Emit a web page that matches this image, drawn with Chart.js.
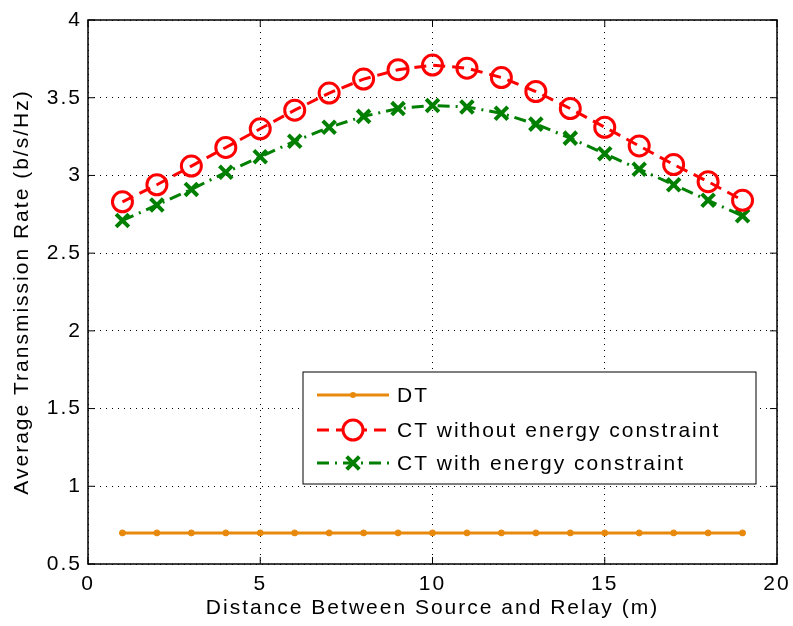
<!DOCTYPE html>
<html lang="en">
<head>
    <meta charset="UTF-8">
    <title>rate vs distance</title>
    <style>
        html, body { margin: 0; padding: 0; background: #fff; }
        #wrap { width: 793px; height: 626px; }
    </style>
</head>
<body>
    <div id="wrap"><canvas id="myChart"></canvas></div>

    <script src="https://cdn.jsdelivr.net/npm/chart.js"></script>

    <script>
        // distance (m)
        const distance = [1, 2, 3, 4, 5, 6, 7, 8, 9, 10, 11, 12, 13, 14, 15, 16, 17, 18, 19];

        const dtRate = [0.70, 0.70, 0.70, 0.70, 0.70, 0.70, 0.70, 0.70, 0.70, 0.70,
                        0.70, 0.70, 0.70, 0.70, 0.70, 0.70, 0.70, 0.70, 0.70];
        const ctNoConstraint = [2.83, 2.94, 3.06, 3.18, 3.30, 3.42, 3.53, 3.62, 3.68, 3.71,
                                3.69, 3.63, 3.54, 3.43, 3.31, 3.19, 3.07, 2.96, 2.84];
        const ctConstraint = [2.71, 2.81, 2.91, 3.02, 3.12, 3.22, 3.31, 3.38, 3.43, 3.45,
                              3.44, 3.40, 3.33, 3.24, 3.14, 3.04, 2.94, 2.84, 2.74];

        const xTicks = [0, 5, 10, 15, 20];
        const yTicks = [0.5, 1, 1.5, 2, 2.5, 3, 3.5, 4];

        const seriesNames = ['DT', 'CT without energy constraint', 'CT with energy constraint'];

        const FONT = 'Liberation Sans, Arial, Helvetica, sans-serif';
        const SPACING = '2px';   // matlab text looks spread out

        function pts(ys) {
            return distance.map((d, i) => ({ x: d, y: ys[i] }));
        }

        const spacingPlugin = {
            id: 'spacing',
            beforeUpdate(chart) { chart.ctx.letterSpacing = SPACING; },
            beforeLayout(chart) { chart.ctx.letterSpacing = SPACING; },
            beforeDraw(chart) { chart.ctx.letterSpacing = SPACING; }
        };

        // box + inward ticks like matlab
        const boxPlugin = {
            id: 'box',
            afterDatasetsDraw(chart) {
                const { ctx, chartArea: a, scales } = chart;
                ctx.save();
                ctx.strokeStyle = '#000';
                ctx.lineWidth = 1.5;
                ctx.strokeRect(a.left, a.top, a.right - a.left, a.bottom - a.top);
                ctx.lineWidth = 1;
                ctx.beginPath();
                xTicks.forEach(v => {
                    const px = scales.x.getPixelForValue(v);
                    ctx.moveTo(px, a.bottom); ctx.lineTo(px, a.bottom - 7);
                    ctx.moveTo(px, a.top); ctx.lineTo(px, a.top + 7);
                });
                yTicks.forEach(v => {
                    const py = scales.y.getPixelForValue(v);
                    ctx.moveTo(a.left, py); ctx.lineTo(a.left + 7, py);
                    ctx.moveTo(a.right, py); ctx.lineTo(a.right - 7, py);
                });
                ctx.stroke();
                ctx.restore();
            }
        };

        // legend drawn by hand so the line + marker sample looks right
        const legendPlugin = {
            id: 'boxLegend',
            afterDraw(chart) {
                const { ctx, chartArea: a } = chart;
                const left = a.left + 215, top = a.bottom - 192;
                const w = 453, h = 112;
                ctx.save();
                ctx.fillStyle = '#fff';
                ctx.fillRect(left, top, w, h);
                ctx.strokeStyle = '#000';
                ctx.lineWidth = 1;
                ctx.strokeRect(left, top, w, h);

                const rows = [top + 23, top + 58, top + 91];
                chart.data.datasets.forEach((ds, i) => {
                    const y = rows[i];
                    const x0 = left + 14, x1 = left + 86, xm = (x0 + x1) / 2;
                    ctx.strokeStyle = ds.borderColor;
                    ctx.lineWidth = ds.borderWidth;
                    ctx.setLineDash(ds.borderDash || []);
                    ctx.beginPath();
                    ctx.moveTo(x0, y); ctx.lineTo(x1, y);
                    ctx.stroke();
                    ctx.setLineDash([]);
                    ctx.lineWidth = ds.pointBorderWidth;
                    ctx.beginPath();
                    if (ds.pointStyle === 'circle' && ds.pointRadius > 5) {
                        ctx.fillStyle = '#fff';
                        ctx.arc(xm, y, ds.pointRadius, 0, Math.PI * 2);
                        ctx.fill();
                        ctx.stroke();
                    } else if (ds.pointStyle === 'crossRot') {
                        const r = ds.pointRadius;
                        ctx.moveTo(xm - r * 0.7, y - r * 0.7); ctx.lineTo(xm + r * 0.7, y + r * 0.7);
                        ctx.moveTo(xm + r * 0.7, y - r * 0.7); ctx.lineTo(xm - r * 0.7, y + r * 0.7);
                        ctx.stroke();
                    } else {
                        ctx.fillStyle = ds.borderColor;
                        ctx.arc(xm, y, ds.pointRadius, 0, Math.PI * 2);
                        ctx.fill();
                    }
                    ctx.fillStyle = '#000';
                    ctx.font = '21px ' + FONT;
                    ctx.textBaseline = 'middle';
                    ctx.fillText(ds.label, left + 94, y + 1);
                });
                ctx.restore();
            }
        };

        const ctx = document.getElementById('myChart');

        new Chart(ctx, {
            type: 'line',
            data: {
                datasets: [
                    {
                        label: seriesNames[0],
                        data: pts(dtRate),
                        borderColor: '#E8890C',
                        backgroundColor: '#E8890C',
                        borderWidth: 3,
                        pointStyle: 'circle',
                        pointRadius: 3,
                        pointBorderWidth: 1,
                        pointBackgroundColor: '#E8890C'
                    },
                    {
                        label: seriesNames[1],
                        data: pts(ctNoConstraint),
                        borderColor: '#FF0000',
                        borderWidth: 3,
                        borderDash: [12, 7],
                        pointStyle: 'circle',
                        pointRadius: 10,
                        pointBorderWidth: 3,
                        pointBackgroundColor: 'rgba(0,0,0,0)'
                    },
                    {
                        label: seriesNames[2],
                        data: pts(ctConstraint),
                        borderColor: '#007F00',
                        borderWidth: 3,
                        borderDash: [12, 6, 2, 6],
                        pointStyle: 'crossRot',
                        pointRadius: 9,
                        pointBorderWidth: 4,
                        pointBackgroundColor: '#007F00'
                    }
                ]
            },
            options: {
                responsive: true,
                maintainAspectRatio: false,
                animation: false,
                layout: { padding: { left: 0, right: 16, top: 20, bottom: 0 } },
                plugins: {
                    legend: { display: false },
                    tooltip: { enabled: false }
                },
                scales: {
                    x: {
                        type: 'linear',
                        min: 0,
                        max: 20,
                        afterBuildTicks(scale) { scale.ticks = xTicks.map(v => ({ value: v })); },
                        afterFit(scale) {
                            scale.height = 62;
                            scale.paddingRight = 0;
                            scale.paddingLeft = 0;
                        },
                        ticks: {
                            color: '#000',
                            font: { family: FONT, size: 21 },
                            padding: 8,
                            maxRotation: 0,
                            callback: v => String(v)
                        },
                        grid: { color: '#000', lineWidth: 1, drawTicks: false },
                        border: { display: false, dash: [1, 5] },
                        title: {
                            display: true,
                            text: 'Distance Between Source and Relay (m)',
                            color: '#000',
                            font: { family: FONT, size: 21 },
                            padding: { top: 0, bottom: 5 }
                        }
                    },
                    y: {
                        type: 'linear',
                        min: 0.5,
                        max: 4,
                        afterBuildTicks(scale) { scale.ticks = yTicks.map(v => ({ value: v })); },
                        afterFit(scale) { scale.width = 88; },
                        ticks: {
                            color: '#000',
                            font: { family: FONT, size: 21 },
                            padding: 6,
                            callback: v => String(v)
                        },
                        grid: { color: '#000', lineWidth: 1, drawTicks: false },
                        border: { display: false, dash: [1, 5] },
                        title: {
                            display: true,
                            text: 'Average Transmission Rate (b/s/Hz)',
                            color: '#000',
                            font: { family: FONT, size: 21 },
                            padding: { top: 10, bottom: 0 }
                        }
                    }
                }
            },
            plugins: [spacingPlugin, boxPlugin, legendPlugin]
        });
    </script>
</body>
</html>
